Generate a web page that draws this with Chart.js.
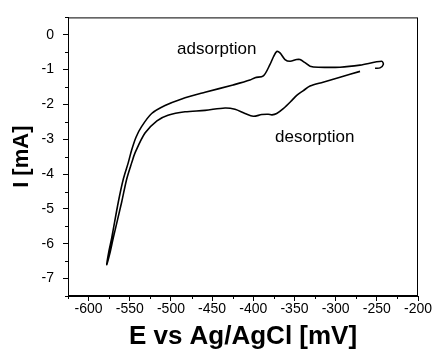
<!DOCTYPE html>
<html><head><meta charset="utf-8">
<script src="https://cdn.jsdelivr.net/npm/chart.js@4.4.1/dist/chart.umd.min.js"></script>
<style>html,body{margin:0;padding:0;background:#fff}</style>
</head><body>
<canvas id="c" width="435" height="352"></canvas>
<script>
// Cyclic voltammogram: potential (mV) and current (mA), in sweep order
const potential = [
  -270.4, -294.7, -315.3, -331.1, -339.6, -346.9, -353.4, -363.6, -371.6, -377.3,
  -381.8, -389.8, -400.0, -410.1, -422.2, -434.3, -458.6, -482.9, -503.6, -517.0,
  -531.5, -543.6, -547.6, -553.7, -559.8, -570.0, -574.0, -578.0,
  -575.2, -571.9, -563.9, -557.8, -551.8, -547.6, -542.4, -535.5, -523.4,
  -507.2, -486.9, -458.6, -424.6, -404.0, -397.9, -387.8, -379.7, -375.5, -371.6,
  -367.6, -361.5, -355.4, -347.3, -343.3, -337.2, -331.1, -321.0, -294.7, -270.4,
  -244.1, -242.1, -246.1, -252.2
];
const current = [
  -1.05, -1.22, -1.36, -1.47, -1.61, -1.73, -1.89, -2.12, -2.26, -2.30,
  -2.28, -2.29, -2.34, -2.26, -2.14, -2.10, -2.17, -2.21, -2.31, -2.47,
  -2.82, -3.39, -3.67, -4.14, -4.80, -5.83, -6.26, -6.60,
  -6.20, -5.83, -4.80, -4.14, -3.67, -3.30, -2.94, -2.63, -2.26,
  -2.03, -1.84, -1.65, -1.44, -1.30, -1.23, -1.18, -0.85, -0.63, -0.48,
  -0.52, -0.71, -0.76, -0.71, -0.71, -0.80, -0.90, -0.93, -0.93, -0.87,
  -0.76, -0.85, -0.95, -0.96
];
const xTicks = [-600, -550, -500, -450, -400, -350, -300, -250, -200];
const yTicks = [0, -1, -2, -3, -4, -5, -6, -7];
const xMinorTicks = [-625, -575, -525, -475, -425, -375, -325, -275, -225];
const yMinorTicks = [0.5, -0.5, -1.5, -2.5, -3.5, -4.5, -5.5, -6.5, -7.5];
const noteLabels = ['adsorption', 'desorption'];
const noteE = [-444.4, -325.4];
const noteI = [-0.56, -3.08];

const FONT = '"Liberation Sans", Arial, sans-serif';

const extras = {
  id: 'extras',
  afterDraw(chart) {
    const {ctx, chartArea: a, scales: {x, y}} = chart;
    ctx.save();
    ctx.strokeStyle = '#000';
    ctx.lineWidth = 1;
    ctx.strokeRect(a.left + 0.5, a.top + 0.5, a.right - a.left - 1, a.bottom - a.top - 1);
    ctx.beginPath();
    xMinorTicks.forEach(v => {
      const px = Math.round(x.getPixelForValue(v)) + 0.5;
      ctx.moveTo(px, a.bottom); ctx.lineTo(px, a.bottom + 3);
    });
    yMinorTicks.forEach(v => {
      const py = Math.round(y.getPixelForValue(v)) + 0.5;
      ctx.moveTo(a.left, py); ctx.lineTo(a.left - 3, py);
    });
    ctx.stroke();
    ctx.fillStyle = '#000';
    ctx.font = '17px ' + FONT;
    ctx.textAlign = 'center';
    ctx.textBaseline = 'alphabetic';
    noteLabels.forEach((t, i) => {
      ctx.fillText(t, x.getPixelForValue(noteE[i]), y.getPixelForValue(noteI[i]));
    });
    ctx.restore();
  }
};

new Chart(document.getElementById('c'), {
  type: 'scatter',
  data: {
    datasets: [{
      data: potential.map((e, i) => ({x: e, y: current[i]})),
      showLine: true,
      borderColor: '#000',
      borderWidth: 1.6,
      pointRadius: 0,
      tension: 0.3,
      fill: false
    }]
  },
  options: {
    responsive: false,
    animation: false,
    devicePixelRatio: 1,
    layout: {padding: {top: 12, right: 17, left: 0, bottom: 0}},
    plugins: {legend: {display: false}, tooltip: {enabled: false}},
    scales: {
      x: {
        type: 'linear', min: -625, max: -200,
        afterFit(s) { s.height = 56; },
        afterBuildTicks(s) { s.ticks = xTicks.map(v => ({value: v})); },
        grid: {drawOnChartArea: false, tickLength: 5, color: '#000', tickColor: '#000'},
        border: {color: '#000', width: 1},
        ticks: {color: '#000', font: {family: FONT, size: 14}, padding: 0, maxRotation: 0, autoSkip: false},
        title: {display: true, text: 'E vs Ag/AgCl [mV]', color: '#000',
                font: {family: FONT, size: 26, weight: 'bold'}, padding: {top: 0, bottom: 0}}
      },
      y: {
        type: 'linear', min: -7.5, max: 0.5,
        afterFit(s) { s.width = 68; },
        afterBuildTicks(s) { s.ticks = yTicks.map(v => ({value: v})); },
        grid: {drawOnChartArea: false, tickLength: 5, color: '#000', tickColor: '#000'},
        border: {color: '#000', width: 1},
        ticks: {color: '#000', font: {family: FONT, size: 14}, padding: 9, autoSkip: false},
        title: {display: true, text: 'I [mA]', color: '#000',
                font: {family: FONT, size: 22, weight: 'bold'}, padding: {top: 9, bottom: 0}}
      }
    }
  },
  plugins: [extras]
});
</script>
</body></html>
